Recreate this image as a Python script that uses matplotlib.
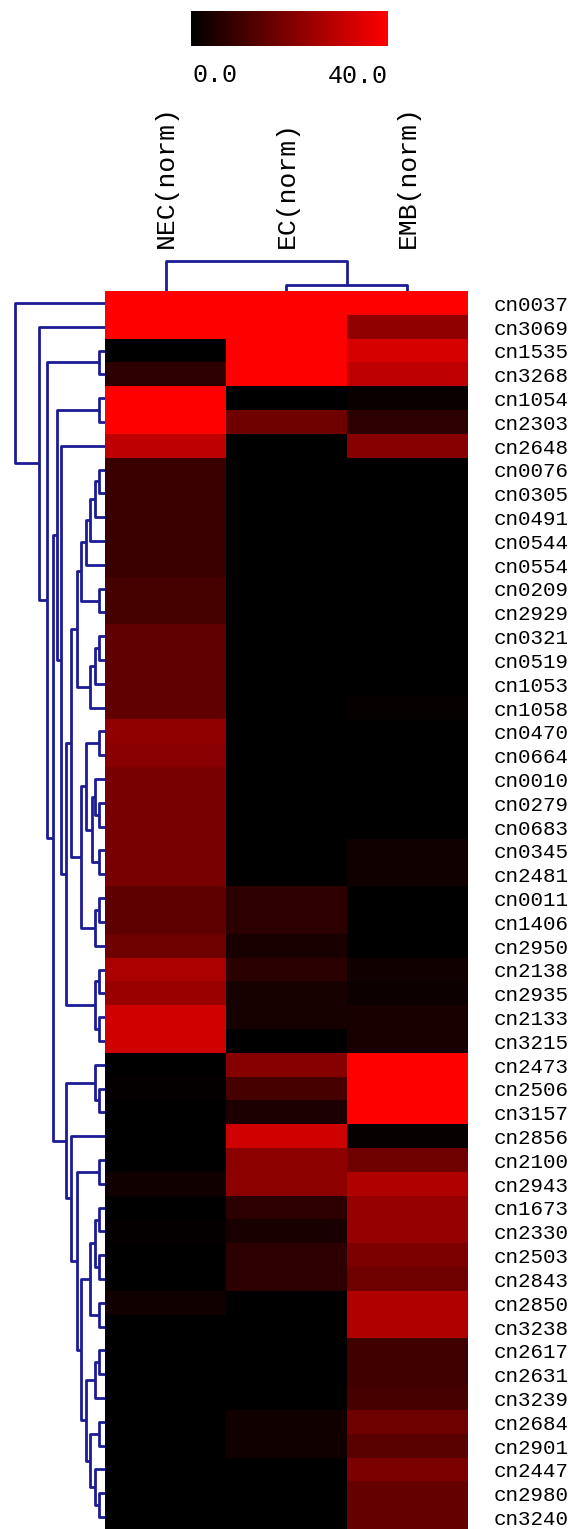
import numpy as np
import matplotlib
matplotlib.use("Agg")
import matplotlib.pyplot as plt
from matplotlib.colors import LinearSegmentedColormap
from matplotlib import transforms

# ---- data ----
col_labels = ["NEC(norm)", "EC(norm)", "EMB(norm)"]
row_labels = ["cn0037", "cn3069", "cn1535", "cn3268", "cn1054", "cn2303", "cn2648",
              "cn0076", "cn0305", "cn0491", "cn0544", "cn0554", "cn0209", "cn2929",
              "cn0321", "cn0519", "cn1053", "cn1058", "cn0470", "cn0664", "cn0010",
              "cn0279", "cn0683", "cn0345", "cn2481", "cn0011", "cn1406", "cn2950",
              "cn2138", "cn2935", "cn2133", "cn3215", "cn2473", "cn2506", "cn3157",
              "cn2856", "cn2100", "cn2943", "cn1673", "cn2330", "cn2503", "cn2843",
              "cn2850", "cn3238", "cn2617", "cn2631", "cn3239", "cn2684", "cn2901",
              "cn2447", "cn2980", "cn3240"]

nec = [40, 40, 0, 7.1, 40, 40, 29.8,
       9.1, 9.1, 9.1, 9.1, 9.1, 10.8, 10.8,
       15.1, 15.1, 15.1, 15.1, 22.6, 21.6, 18.8,
       18.8, 18.8, 18.8, 18.8, 14.9, 14.9, 17.3,
       26.7, 24.3, 32.2, 32.2, 0, 0.8, 0,
       0, 0, 2.5, 0, 0.8, 0, 0,
       2.5, 0, 0, 0, 0, 0, 0,
       0, 0, 0]
ec = [40, 40, 40, 40, 0, 17.3, 0,
      0, 0, 0, 0, 0, 0, 0,
      0, 0, 0, 0, 0, 0, 0,
      0, 0, 0, 0, 6.9, 6.9, 3.8,
      6.6, 3.5, 3.5, 0, 21.2, 11.0, 4.4,
      32.2, 22.0, 22.0, 6.9, 3.9, 7.1, 7.1,
      0, 0, 0, 0, 0, 2.5, 2.5,
      0, 0, 0]
emb = [40, 22.7, 33.7, 29.8, 1.6, 7.1, 21.2,
       0, 0, 0, 0, 0, 0, 0,
       0, 0, 0.3, 1.2, 0, 0, 0,
       0, 0, 2.5, 2.5, 0, 0, 0,
       2.5, 1.9, 3.9, 3.9, 40, 40, 40,
       1.2, 17.3, 27.5, 23.5, 23.5, 19.6, 17.3,
       27.5, 27.5, 10.2, 10.2, 11.0, 17.3, 14.1,
       19.6, 15.7, 15.7]

# linkage-style merges: (child a, child b, height); new cluster id = n_leaves + merge index
row_merges = [
    (2, 3, 6), (4, 5, 6), (7, 8, 6), (54, 9, 10), (55, 10, 15), (56, 11, 19),
    (12, 13, 6), (57, 58, 24), (14, 15, 6), (60, 16, 10), (61, 17, 15), (59, 62, 28),
    (18, 19, 6), (21, 22, 6), (20, 65, 10), (23, 24, 6), (66, 67, 13), (64, 68, 19),
    (25, 26, 6), (70, 27, 10), (69, 71, 24), (63, 72, 34), (28, 29, 6), (30, 31, 6),
    (74, 75, 10), (73, 76, 39), (6, 77, 44), (53, 78, 48), (33, 34, 6), (32, 80, 10),
    (36, 37, 6), (38, 39, 6), (40, 41, 6), (83, 84, 10), (42, 43, 6), (85, 86, 15),
    (44, 45, 6), (88, 46, 10), (47, 48, 6), (50, 51, 6), (49, 91, 10), (90, 92, 15),
    (89, 93, 19), (87, 94, 24), (82, 95, 28), (35, 96, 34), (81, 97, 39), (79, 98, 52),
    (52, 99, 58), (1, 100, 66), (0, 101, 90),
]
col_merges = [(1, 2, 6), (0, 3, 30)]

W, H = 580, 1529
line_col = "#1c1c96"
mono = "Liberation Mono"


def box(x0, y0, x1, y1):
    return [x0 / W, 1 - y1 / H, (x1 - x0) / W, (y1 - y0) / H]


def dendro_segments(merges, n):
    pos = {i: i + 0.5 for i in range(n)}
    hgt = {i: 0.0 for i in range(n)}
    segs = []
    for k, (a, b, h) in enumerate(merges):
        segs.append(([hgt[a], h, h, hgt[b]], [pos[a], pos[a], pos[b], pos[b]]))
        pos[n + k] = (pos[a] + pos[b]) / 2
        hgt[n + k] = h
    return segs


data = np.array([nec, ec, emb]).T
n_rows, n_cols = data.shape

fig = plt.figure(figsize=(W / 100, H / 100), dpi=100)
cmap = LinearSegmentedColormap.from_list("blackred", ["#000000", "#ff0000"])

# heatmap
ax = fig.add_axes(box(105, 291, 468, 1529))
im = ax.imshow(data, cmap=cmap, vmin=0, vmax=40, aspect="auto",
               interpolation="nearest", extent=(0, n_cols, n_rows, 0))
ax.set_xlim(0, n_cols)
ax.set_ylim(n_rows, 0)
ax.axis("off")

# row labels
tr_rows = transforms.blended_transform_factory(fig.transFigure, ax.transData)
for i, lab in enumerate(row_labels):
    ax.text(494 / W, i + 0.6, lab, transform=tr_rows, ha="left", va="center",
            fontsize=15, family=mono, color="black")

# column labels
tr_cols = transforms.blended_transform_factory(ax.transData, fig.transFigure)
for j, lab in enumerate(col_labels):
    ax.text(j + 0.5, 1 - 248 / H, lab, transform=tr_cols, rotation=90,
            ha="center", va="bottom", fontsize=19, family=mono, color="black")

# row dendrogram
axr = fig.add_axes(box(0, 291, 105, 1529))
for xs, ys in dendro_segments(row_merges, n_rows):
    axr.plot(xs, ys, color=line_col, lw=2.0, solid_capstyle="butt")
axr.set_xlim(105, 0)
axr.set_ylim(n_rows, 0)
axr.axis("off")

# column dendrogram
axc = fig.add_axes(box(105, 255, 468, 291))
for hs, ps in dendro_segments(col_merges, n_cols):
    axc.plot(ps, hs, color=line_col, lw=2.0, solid_capstyle="butt")
axc.set_xlim(0, n_cols)
axc.set_ylim(0, 36)
axc.axis("off")

# colour bar
cax = fig.add_axes(box(191, 11, 388, 46))
cb = fig.colorbar(im, cax=cax, orientation="horizontal")
cb.outline.set_visible(False)
cax.set_xticks([])
cax.set_yticks([])
fig.text(192 / W, 1 - 75 / H, "0.0", ha="left", va="center", fontsize=18, family=mono)
fig.text(388 / W, 1 - 76 / H, "40.0", ha="right", va="center", fontsize=18, family=mono)

fig.savefig("out.png", dpi=100)
